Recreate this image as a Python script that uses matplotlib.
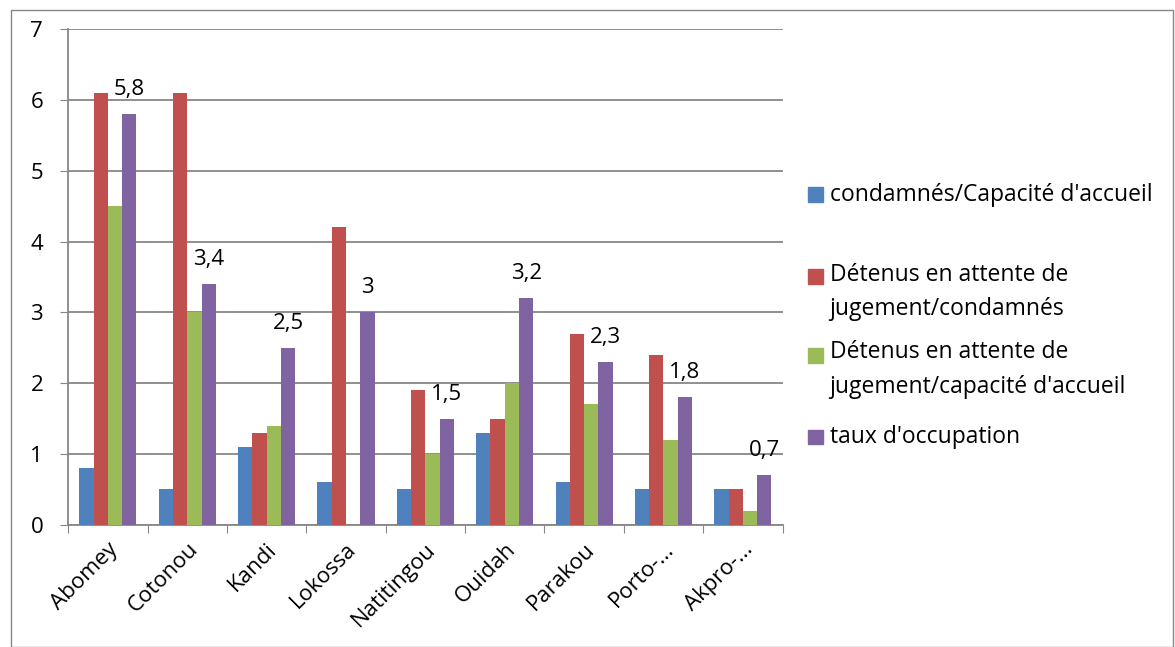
import numpy as np
import matplotlib.pyplot as plt
from matplotlib.patches import Rectangle

plt.rcParams['font.family'] = ['Open Sans', 'DejaVu Sans']

villes = ["Abomey", "Cotonou", "Kandi", "Lokossa", "Natitingou", "Ouidah",
          "Parakou", "Porto-...", "Akpro-..."]
condamnes_capacite = [0.8, 0.5, 1.1, 0.6, 0.5, 1.3, 0.6, 0.5, 0.5]
attente_condamnes = [6.1, 6.1, 1.3, 4.2, 1.9, 1.5, 2.7, 2.4, 0.5]
attente_capacite = [4.5, 3.0, 1.4, 0.0, 1.0, 2.0, 1.7, 1.2, 0.2]
taux_occupation = [5.8, 3.4, 2.5, 3.0, 1.5, 3.2, 2.3, 1.8, 0.7]

series = [
    ("condamnés/Capacité d'accueil", condamnes_capacite, "#4F81BD"),
    ("Détenus en attente de\njugement/condamnés", attente_condamnes, "#C0504D"),
    ("Détenus en attente de\njugement/capacité d'accueil", attente_capacite, "#9BBB59"),
    ("taux d'occupation", taux_occupation, "#8064A2"),
]

fig = plt.figure(figsize=(11.75, 6.47), dpi=100)
ax = fig.add_axes([0.058, 0.189, 0.608, 0.766])

x = np.arange(len(villes))
w = 0.18
for i, (nom, vals, col) in enumerate(series):
    ax.bar(x + (i - 1.5) * w, vals, w, color=col, label=nom, zorder=3)

# étiquettes sur le taux d'occupation
for xi, v in zip(x, taux_occupation):
    lab = ("%g" % v).replace(".", ",")
    ax.annotate(lab, (xi + 1.5 * w, v), xytext=(0, 10), textcoords="offset points",
                ha="center", va="bottom", fontsize=16)

ax.set_xlim(-0.5, len(villes) - 0.5)
ax.set_ylim(0, 7)
ax.set_yticks(range(0, 8))
ax.set_xticks(np.arange(len(villes) + 1) - 0.5)
ax.set_xticklabels([])
ax.set_xticks(x, minor=True)
ax.set_xticklabels(villes, minor=True, rotation=45, ha="right",
                   rotation_mode="anchor", fontsize=16)
ax.tick_params(axis="x", which="minor", length=0, pad=10)
ax.tick_params(axis="x", which="major", length=6, color="#878787", direction="out")
ax.tick_params(axis="y", length=6, color="#878787", labelsize=16, pad=12)
ax.grid(axis="y", color="#878787", linewidth=1.3, zorder=0)
for s in ["top", "right"]:
    ax.spines[s].set_visible(False)
for s in ["left", "bottom"]:
    ax.spines[s].set_color("#878787")
    ax.spines[s].set_linewidth(1.3)

# légende à la manière d'Excel (carré aligné sur la première ligne)
carre_y = [0.699, 0.572, 0.451, 0.3246]
texte_y = [0.699, 0.5487, 0.4289, 0.3246]
for (nom, vals, col), yc, yt in zip(series, carre_y, texte_y):
    fig.patches.append(Rectangle((0.6875, yc - 0.0115), 0.0128, 0.023,
                                 transform=fig.transFigure, color=col))
    fig.text(0.706, yt, nom, fontsize=16.5, va="center", linespacing=1.6)

fig.patches.append(Rectangle((0.009, 0.0), 0.989, 0.984, transform=fig.transFigure,
                             fill=False, edgecolor="#878787", linewidth=1))

fig.savefig("out.png", dpi=100)
